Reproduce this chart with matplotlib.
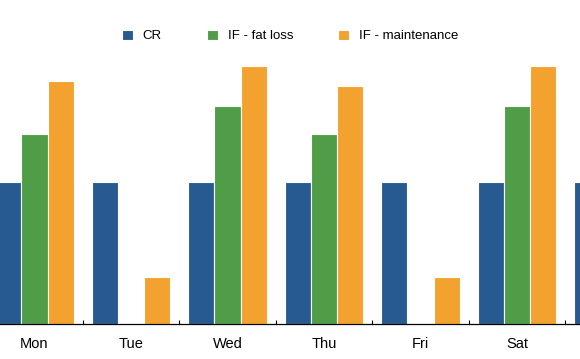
import matplotlib.pyplot as plt
import numpy as np

plt.rcParams["font.family"] = ["Liberation Sans", "DejaVu Sans"]

days = ["Mon", "Tue", "Wed", "Thu", "Fri", "Sat", "Sun"]
cr = [1500, 1500, 1500, 1500, 1500, 1500, 1500]
if_fat_loss = [2010, 0, 2310, 2010, 0, 2310, 2010]
if_maintenance = [2575, 500, 2730, 2520, 500, 2730, 2575]

series = [("CR", cr, "#275a91"),
          ("IF - fat loss", if_fat_loss, "#4f9d47"),
          ("IF - maintenance", if_maintenance, "#f3a22f")]

fig = plt.figure(figsize=(5.8, 3.59), dpi=100)
ax = fig.add_axes([0, 35/359, 1, 324/359])

x = np.arange(len(days))
w = 0.27
for i, (name, vals, col) in enumerate(series):
    ax.bar(x + (i - 1)*w, vals, width=w, color=col, edgecolor="white",
           linewidth=0.8, label=name)

ax.set_xticks(x)
ax.set_xticklabels(days, fontsize=10.5)
ax.set_xticks(x[:-1] + 0.5, minor=True)
# view is cropped: Sun sits off the right edge
ax.set_xlim(-0.3575, 5.653)
ax.set_ylim(0, 3432)
ax.tick_params(axis="x", which="major", length=0, pad=9)
ax.tick_params(axis="x", which="minor", direction="in", length=3, width=0.8)
ax.set_yticks([])
for s in ["top", "left", "right"]:
    ax.spines[s].set_visible(False)
ax.spines["bottom"].set_linewidth(0.9)

fig.legend(loc="center", bbox_to_anchor=(0.5, 1 - 36/359), ncol=3,
           frameon=False, fontsize=9.5, handlelength=0.83, handleheight=0.83,
           handletextpad=0.76, columnspacing=3.4)

plt.savefig("out.png", dpi=100)
